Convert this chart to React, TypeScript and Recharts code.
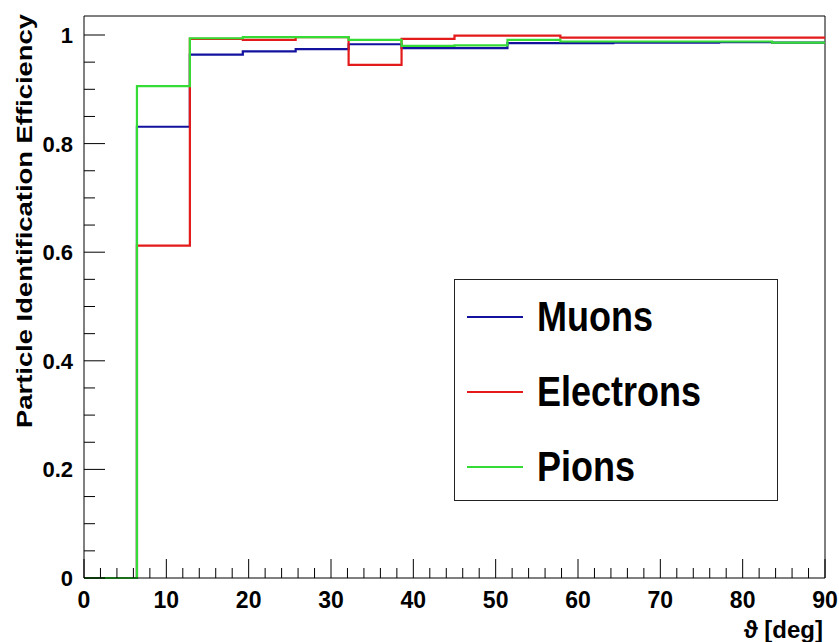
import React from "react";
import { LineChart, Line, XAxis, YAxis, ReferenceLine, Label } from "recharts";

// bin edges of the theta histogram (14 bins, 0..90 deg)
const binEdges = [0, 6.43, 12.86, 19.29, 25.71, 32.14, 38.57, 45, 51.43, 57.86, 64.29, 70.71, 77.14, 83.57, 90];

const muons = [0, 0.831, 0.964, 0.970, 0.974, 0.983, 0.976, 0.976, 0.985, 0.985, 0.986, 0.986, 0.987, 0.986];
const electrons = [0, 0.612, 0.993, 0.991, 0.996, 0.945, 0.993, 0.999, 0.999, 0.995, 0.995, 0.995, 0.995, 0.995];
const pions = [0, 0.906, 0.994, 0.996, 0.996, 0.991, 0.980, 0.981, 0.991, 0.988, 0.988, 0.988, 0.988, 0.986];

const xTicks = [0, 2, 4, 6, 8, 10, 12, 14, 16, 18, 20, 22, 24, 26, 28, 30, 32, 34, 36, 38, 40, 42, 44, 46, 48, 50, 52, 54, 56, 58, 60, 62, 64, 66, 68, 70, 72, 74, 76, 78, 80, 82, 84, 86, 88, 90];
const yTicks = [0, 0.05, 0.1, 0.15, 0.2, 0.25, 0.3, 0.35, 0.4, 0.45, 0.5, 0.55, 0.6, 0.65, 0.7, 0.75, 0.8, 0.85, 0.9, 0.95, 1];
const yMax = 1.035;

const series = [
  { key: "muons", name: "Muons", color: "#12129e" },
  { key: "electrons", name: "Electrons", color: "#e41a1a" },
  { key: "pions", name: "Pions", color: "#36dc36" },
];

// last edge repeats the last bin so the step runs to 90
const data = binEdges.map((theta, i) => {
  const b = Math.min(i, muons.length - 1);
  return { theta, muons: muons[b], electrons: electrons[b], pions: pions[b] };
});

const font = "'Liberation Sans', Arial, Helvetica, sans-serif";

function XTick(props: any) {
  const { x, y, payload } = props;
  const v = payload.value;
  const major = v % 10 === 0;
  return (
    <g>
      <line x1={x} x2={x} y1={y} y2={y - (major ? 19 : 10)} stroke="#000" strokeWidth={1} />
      {major && (
        <text x={x} y={y + 30} textAnchor="middle" fontFamily={font} fontWeight="bold" fontSize={23} fill="#000">
          {v}
        </text>
      )}
    </g>
  );
}

function YTick(props: any) {
  const { x, y, payload } = props;
  const v = payload.value;
  const major = Math.abs(v * 5 - Math.round(v * 5)) < 1e-6;
  const label = v === 0 ? "0" : v === 1 ? "1" : v.toFixed(1);
  return (
    <g>
      <line x1={x} x2={x + (major ? 21 : 11)} y1={y} y2={y} stroke="#000" strokeWidth={1} />
      {major && (
        <text x={x - 11} y={y + 8} textAnchor="end" fontFamily={font} fontWeight="bold" fontSize={22} fill="#000">
          {label}
        </text>
      )}
    </g>
  );
}

export default function App() {
  return (
    <div style={{ position: "absolute", left: 0, top: 0, width: 839, height: 642, background: "#fff" }}>
      <LineChart width={839} height={642} data={data} margin={{ top: 16, right: 14, left: 0, bottom: 0 }}>
        <XAxis
          type="number"
          dataKey="theta"
          domain={[0, 90]}
          ticks={xTicks}
          interval={0}
          tickSize={0}
          tickMargin={0}
          tickLine={false}
          axisLine={{ stroke: "#000" }}
          height={64}
          tick={(p: any) => <XTick {...p} />}
        >
          <Label
            content={() => (
              <text x={823} y={638} textAnchor="end" fontFamily={font} fontWeight="bold" fontSize={24} fill="#000">
                ϑ [deg]
              </text>
            )}
          />
        </XAxis>
        <YAxis
          type="number"
          domain={[0, yMax]}
          ticks={yTicks}
          interval={0}
          tickSize={0}
          tickMargin={0}
          tickLine={false}
          axisLine={{ stroke: "#000" }}
          width={84}
          tick={(p: any) => <YTick {...p} />}
        >
          <Label
            content={() => (
              <text
                transform="translate(32,428) rotate(-90)"
                x={0}
                y={0}
                textLength={414}
                lengthAdjust="spacingAndGlyphs"
                fontFamily={font}
                fontWeight="bold"
                fontSize={22}
                fill="#000"
              >
                Particle Identification Efficiency
              </text>
            )}
          />
        </YAxis>
        <ReferenceLine y={yMax} stroke="#000" strokeWidth={1} />
        <ReferenceLine x={90} stroke="#000" strokeWidth={1} />
        {series.map((s) => (
          <Line
            key={s.key}
            type="stepAfter"
            dataKey={s.key}
            name={s.name}
            stroke={s.color}
            strokeWidth={2.2}
            dot={false}
            isAnimationActive={false}
          />
        ))}
      </LineChart>
      <div
        style={{
          position: "absolute",
          left: 454,
          top: 279,
          width: 324,
          height: 222,
          border: "1px solid #222",
          background: "#fff",
          boxSizing: "border-box",
          fontFamily: font,
        }}
      >
        {series.map((s, i) => (
          <div key={s.key} style={{ position: "absolute", left: 12, top: 37 + i * 75 - 20, height: 40, display: "flex", alignItems: "center" }}>
            <div style={{ width: 56, height: 2, background: s.color }} />
            <span
              style={{
                marginLeft: 14,
                fontSize: 36,
                fontWeight: "bold",
                color: "#000",
                display: "inline-block",
                transform: "scaleY(1.2)",
                lineHeight: "40px",
              }}
            >
              {s.name}
            </span>
          </div>
        ))}
      </div>
    </div>
  );
}
